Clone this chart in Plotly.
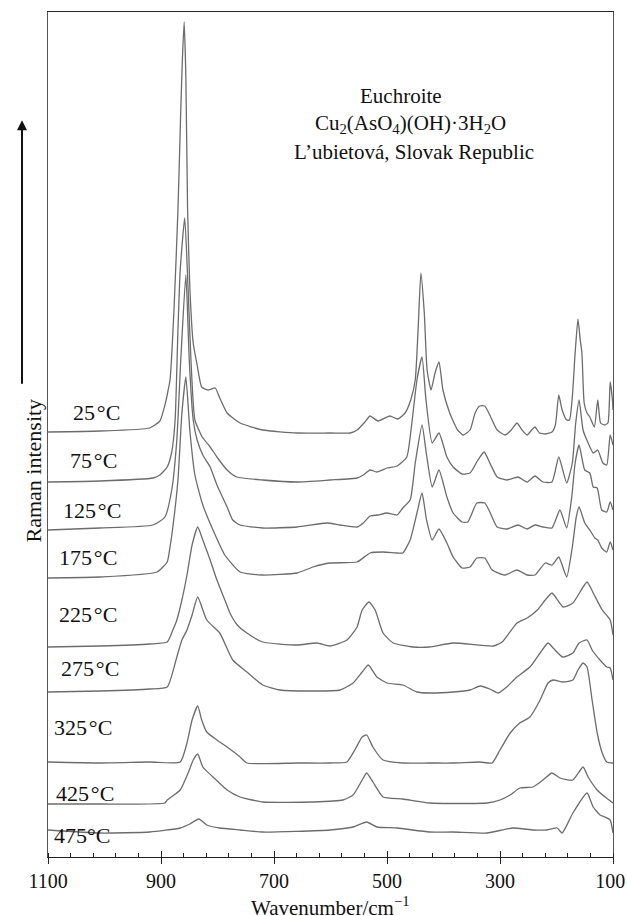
import plotly.graph_objects as go

# Wavenumbers (cm-1) and stacked Raman intensities (arbitrary units, offset per spectrum)
w_25 = [1100,1008,920,902,893,888,884,877,870,865,862,859,856,853,849,843,836,828,817,804,796,783,760,720,659,601,565,553,539,530,516,495,481,468,458,450,445,440,434,429,422,415,408,401,389,375,365,353,344,336,327,318,305,291,280,270,261,252,244,238,230,219,208,202,196,190,182,177,172,167,162,158,155,151,146,141,133,127,122,115,109,105,101,100]
i_25 = [425,426,429,436,452,465,477,547,647,747,800,835,780,650,570,514,492,470,467,469,459,444,434,427,424,424,424,427,435,441,436,441,438,444,457,477,527,584,544,487,467,484,495,467,444,427,422,427,444,451,451,442,427,422,427,434,427,422,427,430,424,423,425,432,462,447,437,437,460,504,538,517,504,454,444,440,430,457,434,432,434,475,457,447]

w_75 = [1100,1008,914,902,889,881,875,870,866,858,852,847,840,827,813,801,783,766,720,659,601,553,542,530,518,500,482,465,456,447,438,431,420,408,394,383,367,353,339,328,318,305,288,268,252,238,224,208,196,182,172,166,160,153,144,135,127,118,111,105,100]
i_75 = [375,376,379,382,390,405,437,527,587,639,567,497,437,420,410,400,387,380,377,375,377,379,382,387,385,389,391,400,434,477,500,457,414,424,400,390,383,384,397,405,394,380,377,380,375,381,375,375,400,374,394,434,457,427,414,404,407,394,392,422,412]

w_125 = [1100,1008,914,893,881,872,865,856,850,843,836,826,813,801,783,773,760,720,659,606,583,553,542,530,516,500,482,472,459,450,438,430,420,408,394,383,367,357,341,327,318,305,288,268,252,238,224,208,194,182,173,167,160,150,141,135,128,120,111,105,100]
i_125 = [327,329,332,340,367,417,497,582,497,437,417,402,390,372,350,337,332,329,330,334,332,330,334,341,342,344,342,349,357,394,432,402,370,387,360,344,335,335,354,354,345,330,328,332,328,332,330,329,347,329,360,394,412,387,384,370,369,347,345,355,347]

w_175 = [1100,1008,907,889,884,879,870,863,856,849,840,826,808,787,760,720,659,631,601,553,530,507,482,472,459,447,438,430,420,408,394,383,367,353,341,327,314,291,270,252,238,220,208,196,182,172,165,160,150,141,132,127,120,111,105,100]
i_175 = [279,280,285,295,310,330,377,444,480,427,382,352,327,302,285,282,284,290,294,295,304,305,304,304,317,344,364,337,317,328,314,300,289,290,299,299,287,282,287,282,282,294,292,300,280,310,340,350,334,327,319,317,309,305,315,307]

w_225 = [1100,1008,920,889,879,872,863,854,845,835,826,813,801,787,778,765,748,720,659,624,601,571,553,544,532,521,507,489,454,425,383,312,296,270,252,234,220,208,188,171,146,135,119,105,100]
i_225 = [210,211,213,215,227,237,257,282,312,330,317,297,277,257,244,232,224,215,212,214,211,217,230,247,255,247,224,214,210,210,214,211,215,234,239,247,257,264,250,254,275,264,247,237,222]

w_275 = [1100,1008,920,889,872,863,854,845,835,819,796,773,748,720,689,631,583,560,544,533,518,500,472,447,425,383,353,335,318,303,288,270,247,229,215,206,189,171,160,146,137,123,111,105,100]
i_275 = [165,166,168,170,200,217,227,242,260,237,224,197,185,172,167,166,167,174,185,192,180,174,172,165,164,165,167,171,168,164,170,180,190,204,214,209,200,204,214,217,207,197,190,189,177]

w_325 = [1100,1008,920,866,854,845,835,828,819,801,783,760,748,659,601,571,557,544,536,525,507,472,425,383,335,314,300,282,265,247,229,215,206,188,171,162,153,146,137,128,119,111,100]
i_325 = [95,94,95,95,114,137,151,137,125,117,110,100,94,94,94,95,107,120,122,110,97,94,94,94,95,94,107,124,134,140,157,174,177,175,177,187,194,190,157,124,104,95,94]

w_425 = [1100,1008,893,889,866,852,843,835,826,808,783,760,720,631,578,560,544,536,525,507,472,425,323,300,282,265,242,224,208,194,171,153,144,128,114,100]
i_425 = [53,53,54,57,67,84,97,103,90,80,67,60,55,55,57,62,77,84,75,60,58,54,54,57,62,69,70,77,84,79,77,90,80,67,60,54]

w_475 = [1100,1008,920,866,849,833,819,796,760,720,601,560,536,518,482,425,383,323,277,241,217,199,190,171,146,135,123,114,105,100]
i_475 = [27,24,25,29,33,38,32,29,27,25,27,30,35,30,29,25,25,24,29,27,27,29,24,44,64,50,42,40,37,24]

temps = ["25\u200a°C", "75\u200a°C", "125\u200a°C", "175\u200a°C", "225\u200a°C",
         "275\u200a°C", "325\u200a°C", "425\u200a°C", "475°C"]
wavenumbers = [w_25, w_75, w_125, w_175, w_225, w_275, w_325, w_425, w_475]
intensities = [i_25, i_75, i_125, i_175, i_225, i_275, i_325, i_425, i_475]

# label anchor positions (data coords)
label_x = [1015, 1020, 1022, 1029, 1029, 1026, 1038, 1035, 1040]
label_y = [445, 397, 347, 300, 243, 189, 130, 64, 22]

x_ticks = [1100, 900, 700, 500, 300, 100]
x_tick_text = ["1100", "900", "700", "500", "300", "100\u2009\u200a"]

SERIF = "Liberation Serif, Times New Roman, serif"
LINE_COLOR = "#6c6c6c"

fig = go.Figure()
for name, w, inten in zip(temps, wavenumbers, intensities):
    fig.add_trace(go.Scatter(
        x=w, y=inten, mode="lines", name=name, showlegend=False,
        line=dict(color=LINE_COLOR, width=1.3, shape="spline", smoothing=0.5),
        hoverinfo="skip",
    ))

# helper trace for the inward half of the major ticks
fig.add_trace(go.Scatter(x=[x_ticks[0]], y=[0], xaxis="x2", mode="lines",
                         showlegend=False, hoverinfo="skip",
                         line=dict(color="rgba(0,0,0,0)")))

for t, lx, ly in zip(temps, label_x, label_y):
    fig.add_annotation(x=lx, y=ly, xref="x", yref="y", text=t, showarrow=False,
                       font=dict(family=SERIF, size=22, color="#111"),
                       xanchor="center", yanchor="middle")

title_lines = ["Euchroite",
               "Cu<sub>2</sub>(AsO<sub>4</sub>)(OH)·3H<sub>2</sub>O",
               "L’ubietová, Slovak Republic"]
title_pos = [(0.625, 0.9006), (0.641, 0.8675), (0.648, 0.834)]
for txt, (px, py) in zip(title_lines, title_pos):
    fig.add_annotation(x=px, y=py, xref="paper", yref="paper", text=txt,
                       showarrow=False, font=dict(family=SERIF, size=21, color="#111"),
                       xanchor="center", yanchor="middle")

# y-axis title with upward arrow
fig.add_annotation(x=-0.0496, y=0.458, xref="paper", yref="paper",
                   text="Raman intensity", textangle=-90, showarrow=False,
                   font=dict(family=SERIF, size=22, color="#111"))
fig.add_annotation(x=-0.046, y=0.872, xref="paper", yref="paper", text="",
                   showarrow=True, ax=0, ay=265, arrowhead=2, arrowsize=1,
                   arrowwidth=2, arrowcolor="#111")

# x-axis title
fig.add_annotation(x=0.5, y=-0.058, xref="paper", yref="paper",
                   text="Wavenumber/cm<sup>−1</sup>", showarrow=False,
                   font=dict(family=SERIF, size=21, color="#111"),
                   xanchor="center", yanchor="middle")

fig.update_layout(
    width=627, height=916,
    margin=dict(l=48, r=14, t=12, b=59, autoexpand=False),
    paper_bgcolor="white", plot_bgcolor="white",
    xaxis=dict(range=[1100, 100], tickvals=x_ticks, ticktext=x_tick_text,
               ticks="outside", ticklen=6,
               tickwidth=1.2, tickcolor="#222", showgrid=False, zeroline=False,
               showline=True, linecolor="#222", linewidth=1.4, mirror=True,
               ticklabeloverflow="allow", automargin=False,
               tickfont=dict(family=SERIF, size=20, color="#111"),
               minor=dict(dtick=40, tick0=100, ticks="inside", ticklen=4,
                          tickcolor="#222", tickwidth=1, showgrid=False)),
    xaxis2=dict(range=[1100, 100], overlaying="x", anchor="y", side="bottom",
                tickvals=x_ticks, ticks="inside", ticklen=6, tickwidth=1.2,
                tickcolor="#222", showticklabels=False, showgrid=False,
                zeroline=False, showline=False, automargin=False),
    yaxis=dict(range=[0, 845], showticklabels=False, ticks="", showgrid=False,
               zeroline=False, showline=True, linecolor="#555", linewidth=1.2,
               mirror=True, automargin=False),
)

fig.write_html("out.html", config={"displayModeBar": False},
               post_script="document.body.style.margin='0';document.body.style.padding='0';")
